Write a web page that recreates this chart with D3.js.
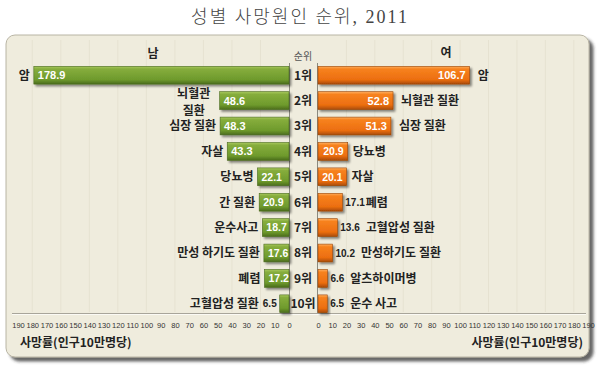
<!DOCTYPE html>
<html>
<head>
<meta charset="utf-8">
<script src="https://cdn.jsdelivr.net/npm/d3@7"></script>
<style>
  body { margin: 0; background: #fff; }
  svg { display: block; }
</style>
</head>
<body>
<div id="chart"></div>
<script>
const ranks = ["1위", "2위", "3위", "4위", "5위", "6위", "7위", "8위", "9위", "10위"];
const maleCauses = ["암", "뇌혈관 질환", "심장 질환", "자살", "당뇨병", "간 질환", "운수사고", "만성 하기도 질환", "폐렴", "고혈압성 질환"];
const maleRates = [178.9, 48.6, 48.3, 43.3, 22.1, 20.9, 18.7, 17.6, 17.2, 6.5];
const femaleCauses = ["암", "뇌혈관 질환", "심장 질환", "당뇨병", "자살", "폐렴", "고혈압성 질환", "만성하기도 질환", "알츠하이머병", "운수 사고"];
const femaleRates = [106.7, 52.8, 51.3, 20.9, 20.1, 17.1, 13.6, 10.2, 6.6, 6.5];
const tickValues = d3.range(0, 200, 10);

const width = 600;
const height = 369;
const labelFont = "'Noto Sans CJK KR', 'Liberation Sans', sans-serif";

const svg = d3.select("#chart").append("svg").attr("width", width).attr("height", height);
const defs = svg.append("defs");

// gradients for the bevelled bars
function addGradient(id, stops) {
  const g = defs.append("linearGradient").attr("id", id).attr("x1", 0).attr("y1", 0).attr("x2", 0).attr("y2", 1);
  stops.forEach((s) => g.append("stop").attr("offset", s[0]).attr("stop-color", s[1]));
}
addGradient("greenGrad", [[0, "#a9c95e"], [0.15, "#86ad3c"], [0.75, "#6e9a2c"], [1, "#4b6c1c"]]);
addGradient("orangeGrad", [[0, "#ffb060"], [0.15, "#f7821e"], [0.75, "#ec6e10"], [1, "#a94b06"]]);

const shadow = defs.append("filter").attr("id", "barShadow").attr("x", "-20%").attr("y", "-30%").attr("width", "160%").attr("height", "180%");
shadow.append("feDropShadow").attr("dx", 2).attr("dy", 2).attr("stdDeviation", 1.2).attr("flood-color", "#000").attr("flood-opacity", 0.45);

const panelShadow = defs.append("filter").attr("id", "panelShadow").attr("x", "-5%").attr("y", "-5%").attr("width", "110%").attr("height", "115%");
panelShadow.append("feDropShadow").attr("dx", 4).attr("dy", 4).attr("stdDeviation", 1.8).attr("flood-color", "#333").attr("flood-opacity", 0.75);

// title
svg.append("text")
  .attr("x", 300)
  .attr("y", 23)
  .attr("text-anchor", "middle")
  .attr("font-family", "'Liberation Serif', 'Noto Sans CJK KR', serif")
  .attr("font-size", "18px")
  .attr("font-weight", 300)
  .attr("letter-spacing", "2px")
  .attr("fill", "#444")
  .text("성별 사망원인 순위, 2011");

// panel
svg.append("rect")
  .attr("x", 6)
  .attr("y", 35)
  .attr("width", 583)
  .attr("height", 322)
  .attr("rx", 9)
  .attr("fill", "#efecdd")
  .attr("stroke", "#b8b4a4")
  .attr("stroke-width", 1)
  .attr("filter", "url(#panelShadow)");

// scales
const xL = d3.scaleLinear().domain([0, 190]).range([289, 18]);
const xR = d3.scaleLinear().domain([0, 190]).range([318, 588]);
const y = d3.scaleBand().domain(ranks).range([62.5, 316.5]).paddingInner(0.3).paddingOuter(0.15);

// faint grid columns
svg.append("g")
  .selectAll("line")
  .data(tickValues.filter((d) => d > 0 && d % 20 === 0))
  .enter()
  .append("line")
  .attr("x1", (d) => xL(d))
  .attr("x2", (d) => xL(d))
  .attr("y1", 40)
  .attr("y2", 312)
  .attr("stroke", "#e6e2d1")
  .attr("stroke-width", 1);
svg.append("g")
  .selectAll("line")
  .data(tickValues.filter((d) => d > 0 && d % 20 === 0))
  .enter()
  .append("line")
  .attr("x1", (d) => xR(d))
  .attr("x2", (d) => xR(d))
  .attr("y1", 40)
  .attr("y2", 312)
  .attr("stroke", "#e6e2d1")
  .attr("stroke-width", 1);

// headers
svg.append("text").attr("x", 153).attr("y", 58).attr("text-anchor", "middle")
  .attr("font-family", labelFont).attr("font-weight", "bold").attr("font-size", "12px").attr("fill", "#222").text("남");
svg.append("text").attr("x", 446).attr("y", 57).attr("text-anchor", "middle")
  .attr("font-family", labelFont).attr("font-weight", "bold").attr("font-size", "12px").attr("fill", "#222").text("여");
svg.append("text").attr("x", 303).attr("y", 60).attr("text-anchor", "middle")
  .attr("font-family", labelFont).attr("font-size", "10px").attr("fill", "#555").text("순위");

// baseline lines
svg.append("line").attr("x1", 289.5).attr("x2", 289.5).attr("y1", 63).attr("y2", 313).attr("stroke", "#8a8a80");
svg.append("line").attr("x1", 317.5).attr("x2", 317.5).attr("y1", 63).attr("y2", 313).attr("stroke", "#8a8a80");
svg.append("line").attr("x1", 12).attr("x2", 586).attr("y1", 313.5).attr("y2", 313.5).attr("stroke", "#a8a59a");
svg.append("line").attr("x1", 12).attr("x2", 586).attr("y1", 314.5).attr("y2", 314.5).attr("stroke", "#fbfaf4");

// rank labels
svg.append("g")
  .selectAll("text")
  .data(ranks)
  .enter()
  .append("text")
  .attr("x", 303)
  .attr("y", (d) => y(d) + y.bandwidth() / 2)
  .attr("dy", "0.36em")
  .attr("text-anchor", "middle")
  .attr("font-family", labelFont)
  .attr("font-weight", "bold")
  .attr("font-size", "12px")
  .attr("fill", "#222")
  .text((d) => d);

const maleData = ranks.map((r, i) => ({ rank: r, cause: maleCauses[i], value: maleRates[i] }));
const femaleData = ranks.map((r, i) => ({ rank: r, cause: femaleCauses[i], value: femaleRates[i] }));

// male bars
const maleRows = svg.append("g").selectAll(".maleRow").data(maleData).enter().append("g").attr("class", "maleRow");
maleRows.append("rect")
  .attr("x", (d) => xL(d.value))
  .attr("y", (d) => y(d.rank))
  .attr("width", (d) => xL(0) - xL(d.value))
  .attr("height", y.bandwidth())
  .attr("fill", "url(#greenGrad)")
  .attr("stroke", "#4a6a1e")
  .attr("stroke-width", 0.6)
  .attr("filter", "url(#barShadow)");

maleRows.each(function (d) {
  const g = d3.select(this);
  const cy = y(d.rank) + y.bandwidth() / 2;
  const left = xL(d.value);
  const inside = xL(0) - left > 20;
  let labelEnd = left - 4;
  if (inside) {
    g.append("text")
      .attr("x", left + 4)
      .attr("y", cy)
      .attr("dy", "0.36em")
      .attr("font-family", "'Liberation Sans', Arial, sans-serif")
      .attr("font-weight", "bold")
      .attr("font-size", d.value > 30 ? "11px" : "10.5px")
      .attr("fill", "#fff")
      .text(d.value.toFixed(1));
  } else {
    const v = g.append("text")
      .attr("x", left - 3)
      .attr("y", cy)
      .attr("dy", "0.36em")
      .attr("text-anchor", "end")
      .attr("font-family", "'Liberation Sans', Arial, sans-serif")
      .attr("font-weight", "bold")
      .attr("font-size", "10px")
      .attr("fill", "#222")
      .text(d.value.toFixed(1));
    labelEnd = left - 3 - v.node().getComputedTextLength() - 4;
  }
  if (d.cause === "뇌혈관 질환") {
    // wraps on two lines in the original
    const [first, second] = d.cause.split(" ");
    const cx = labelEnd - 22;
    g.append("text")
      .attr("x", cx)
      .attr("y", cy - 3)
      .attr("text-anchor", "middle")
      .attr("font-family", labelFont)
      .attr("font-weight", "bold")
      .attr("font-size", "12px")
      .attr("fill", "#222")
      .text(first);
    g.append("text")
      .attr("x", cx)
      .attr("y", cy + 14)
      .attr("text-anchor", "middle")
      .attr("font-family", labelFont)
      .attr("font-weight", "bold")
      .attr("font-size", "12px")
      .attr("fill", "#222")
      .text(second);
  } else {
    g.append("text")
      .attr("x", labelEnd)
      .attr("y", cy)
      .attr("dy", "0.36em")
      .attr("text-anchor", "end")
      .attr("font-family", labelFont)
      .attr("font-weight", "bold")
      .attr("font-size", "12px")
      .attr("fill", "#222")
      .text(d.cause);
  }
});

// female bars
const femaleRows = svg.append("g").selectAll(".femaleRow").data(femaleData).enter().append("g").attr("class", "femaleRow");
femaleRows.append("rect")
  .attr("x", xR(0))
  .attr("y", (d) => y(d.rank))
  .attr("width", (d) => xR(d.value) - xR(0))
  .attr("height", y.bandwidth())
  .attr("fill", "url(#orangeGrad)")
  .attr("stroke", "#9a4406")
  .attr("stroke-width", 0.6)
  .attr("filter", "url(#barShadow)");

femaleRows.each(function (d) {
  const g = d3.select(this);
  const cy = y(d.rank) + y.bandwidth() / 2;
  const right = xR(d.value);
  const inside = right - xR(0) > 26;
  let labelStart = right + 8;
  if (inside) {
    g.append("text")
      .attr("x", right - 4)
      .attr("y", cy)
      .attr("dy", "0.36em")
      .attr("text-anchor", "end")
      .attr("font-family", "'Liberation Sans', Arial, sans-serif")
      .attr("font-weight", "bold")
      .attr("font-size", d.value > 30 ? "11px" : "10.5px")
      .attr("fill", "#fff")
      .text(d.value.toFixed(1));
    if (d.value < 30) labelStart = right + 5;
  } else {
    const v = g.append("text")
      .attr("x", right + 3)
      .attr("y", cy)
      .attr("dy", "0.36em")
      .attr("font-family", "'Liberation Sans', Arial, sans-serif")
      .attr("font-weight", "bold")
      .attr("font-size", "10px")
      .attr("fill", "#222")
      .text(d.value.toFixed(1));
    labelStart = right + 3 + v.node().getComputedTextLength() + (d.value > 17 ? 1 : 6);
  }
  g.append("text")
    .attr("x", labelStart)
    .attr("y", cy)
    .attr("dy", "0.36em")
    .attr("font-family", labelFont)
    .attr("font-weight", "bold")
    .attr("font-size", "12px")
    .attr("fill", "#222")
    .text(d.cause);
});

// axes
const axisL = svg.append("g").attr("transform", "translate(0,323)")
  .call(d3.axisBottom(xL).tickValues(tickValues).tickSize(0).tickPadding(0));
const axisR = svg.append("g").attr("transform", "translate(0,323)")
  .call(d3.axisBottom(xR).tickValues(tickValues).tickSize(0).tickPadding(0));
[axisL, axisR].forEach((a) => {
  a.select(".domain").remove();
  a.selectAll("text")
    .attr("font-family", "'Liberation Sans', Arial, sans-serif")
    .attr("font-size", "7.5px")
    .attr("fill", "#333");
});

// axis titles
svg.append("text").attr("x", 20).attr("y", 347)
  .attr("font-family", labelFont).attr("font-weight", "bold").attr("font-size", "12px").attr("fill", "#222")
  .text("사망률(인구10만명당)");
svg.append("text").attr("x", 583).attr("y", 347).attr("text-anchor", "end")
  .attr("font-family", labelFont).attr("font-weight", "bold").attr("font-size", "12px").attr("fill", "#222")
  .text("사망률(인구10만명당)");
</script>
</body>
</html>
